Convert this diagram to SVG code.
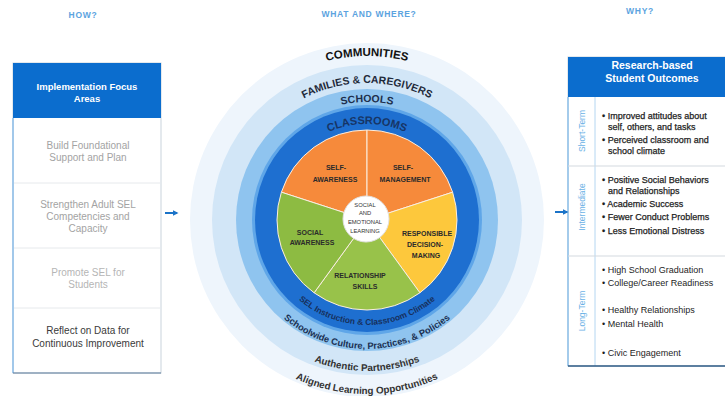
<svg xmlns="http://www.w3.org/2000/svg" width="725" height="396" viewBox="0 0 725 396">
<style>
.hdr{font-family:"Liberation Sans",Arial,sans-serif;font-weight:bold;font-size:8.5px;fill:#5ba3e0;letter-spacing:0.7px;text-anchor:middle}
.ph{font-family:"Liberation Sans",Arial,sans-serif;font-weight:bold;fill:#fff;text-anchor:middle}
.lt{font-family:"Liberation Sans",Arial,sans-serif;font-size:10px;text-anchor:middle}
.bt{font-family:"Liberation Sans",Arial,sans-serif;font-size:9px;fill:#1e1e1e}
.dk{stroke:#1e1e1e;stroke-width:0.25}
.rl{font-family:"Liberation Sans",Arial,sans-serif;font-size:8.5px;fill:#6cb2e6;text-anchor:middle}
.ring{font-family:"Liberation Sans",Arial,sans-serif;font-weight:bold;text-anchor:middle}
.pie{font-family:"Liberation Sans",Arial,sans-serif;font-weight:bold;font-size:7px;fill:#2b2b2b;text-anchor:middle}
.ctr{font-family:"Liberation Sans",Arial,sans-serif;font-size:5.8px;fill:#333;text-anchor:middle}
.sep{stroke:#e6e9ec;stroke-width:1}
.slice{stroke:#fbeee0;stroke-width:1}
</style>
<defs>
<marker id="ah" markerWidth="6" markerHeight="6" refX="4.5" refY="3" orient="auto" markerUnits="userSpaceOnUse">
<path d="M0,0 L6,3 L0,6 Z" fill="#1a73c8"/>
</marker>
<path id="tCom" d="M203,220 A164,164 0 0 1 531,220"/>
<path id="tFam" d="M230,220 A137,137 0 0 1 504,220"/>
<path id="tSch" d="M249,220 A118,118 0 0 1 485,220"/>
<path id="tCla" d="M271,220 A96,96 0 0 1 463,220"/>
<path id="bSel" d="M262,220 A105,105 0 0 0 472,220"/>
<path id="bSch" d="M238,220 A129,129 0 0 0 496,220"/>
<path id="bAut" d="M216,220 A151,151 0 0 0 518,220"/>
<path id="bAli" d="M193,220 A174,174 0 0 0 541,220"/>
</defs>

<rect width="725" height="396" fill="#fff"/>

<g id="titles">
<text class="hdr" x="83" y="18">HOW?</text>
<text class="hdr" x="369" y="17">WHAT AND WHERE?</text>
<text class="hdr" x="640" y="14">WHY?</text>
</g>

<g id="implementation-focus-areas">
<rect x="13" y="63" width="148" height="310" fill="#fff" stroke="#c9d3dc"/>
<rect x="13" y="63" width="148" height="55" fill="#0b6dce"/>
<line x1="13" y1="118" x2="13" y2="373" stroke="#8cbde8" stroke-width="1.5"/>
<line x1="13" y1="373" x2="161" y2="373" stroke="#5b7a99" stroke-width="1.2"/>
<line class="sep" x1="14" y1="183" x2="160" y2="183"/>
<line class="sep" x1="14" y1="248" x2="160" y2="248"/>
<line class="sep" x1="14" y1="308" x2="160" y2="308"/>
<text class="ph" x="87" y="90" font-size="9.5">Implementation Focus</text>
<text class="ph" x="87" y="102" font-size="9.5">Areas</text>
<text class="lt" x="88" y="149" fill="#a3a3a3">Build Foundational</text>
<text class="lt" x="88" y="161" fill="#a3a3a3">Support and Plan</text>
<text class="lt" x="88" y="208" fill="#a3a3a3">Strengthen Adult SEL</text>
<text class="lt" x="88" y="220" fill="#a3a3a3">Competencies and</text>
<text class="lt" x="88" y="232" fill="#a3a3a3">Capacity</text>
<text class="lt" x="88" y="276" fill="#b5b5b5">Promote SEL for</text>
<text class="lt" x="88" y="288" fill="#b5b5b5">Students</text>
<text class="lt" x="88" y="334" fill="#3a3a3a">Reflect on Data for</text>
<text class="lt" x="88" y="347" fill="#3a3a3a">Continuous Improvement</text>
</g>

<g id="sel-wheel">
<circle cx="367" cy="220" r="177" fill="#eef5fc"/>
<circle cx="367" cy="220" r="155" fill="#d2e6f7"/>
<circle cx="367" cy="220" r="131" fill="#8fc4ef"/>
<circle cx="367" cy="220" r="115" fill="#5fa6e8"/>
<circle cx="367" cy="220" r="112" fill="#1e6fd0"/>
<path class="slice" d="M367,220 L367,130 A90,90 0 0 0 281.4,192.2 Z" fill="#f68a3b"/>
<path class="slice" d="M367,220 L452.6,192.2 A90,90 0 0 0 367,130 Z" fill="#f68a3b"/>
<path class="slice" d="M367,220 L419.9,292.8 A90,90 0 0 0 452.6,192.2 Z" fill="#fdc83c"/>
<path class="slice" d="M367,220 L314.1,292.8 A90,90 0 0 0 419.9,292.8 Z" fill="#98c24a"/>
<path class="slice" d="M367,220 L281.4,192.2 A90,90 0 0 0 314.1,292.8 Z" fill="#8dbb42"/>
<circle cx="366" cy="219" r="23" fill="#fff" stroke="#e2e2e2"/>

<text class="ring" font-size="11.5" fill="#111"><textPath href="#tCom" startOffset="50%">COMMUNITIES</textPath></text>
<text class="ring" font-size="10.5" fill="#1f2a3a"><textPath href="#tFam" startOffset="50%">FAMILIES &amp; CAREGIVERS</textPath></text>
<text class="ring" font-size="10.5" fill="#1e2f4c"><textPath href="#tSch" startOffset="50%">SCHOOLS</textPath></text>
<text class="ring" font-size="11" fill="#173566"><textPath href="#tCla" startOffset="50%">CLASSROOMS</textPath></text>
<text class="ring" font-size="8.4" fill="#17305c"><textPath href="#bSel" startOffset="50%">SEL Instruction &amp; Classroom Climate</textPath></text>
<text class="ring" font-size="9.2" fill="#1b3052"><textPath href="#bSch" startOffset="50%">Schoolwide Culture, Practices, &amp; Policies</textPath></text>
<text class="ring" font-size="9.8" fill="#333"><textPath href="#bAut" startOffset="50%">Authentic Partnerships</textPath></text>
<text class="ring" font-size="9.8" fill="#333"><textPath href="#bAli" startOffset="50%">Aligned Learning Opportunities</textPath></text>

<text class="pie" x="336" y="170">SELF-</text>
<text class="pie" x="335" y="182">AWARENESS</text>
<text class="pie" x="403" y="170">SELF-</text>
<text class="pie" x="405" y="182">MANAGEMENT</text>
<text class="pie" x="310" y="235">SOCIAL</text>
<text class="pie" x="312" y="245">AWARENESS</text>
<text class="pie" x="427" y="236">RESPONSIBLE</text>
<text class="pie" x="425" y="247">DECISION-</text>
<text class="pie" x="426" y="258">MAKING</text>
<text class="pie" x="360" y="278">RELATIONSHIP</text>
<text class="pie" x="365" y="289">SKILLS</text>
<text class="ctr" x="365" y="207">SOCIAL</text>
<text class="ctr" x="365" y="215">AND</text>
<text class="ctr" x="365" y="224">EMOTIONAL</text>
<text class="ctr" x="365" y="233">LEARNING</text>
</g>

<g id="student-outcomes">
<rect x="568" y="57" width="170" height="309" fill="#fff" stroke="#c9d3dc"/>
<rect x="568" y="57" width="170" height="40" fill="#0b6dce"/>
<line x1="568" y1="97" x2="568" y2="366" stroke="#8fc1ea" stroke-width="1.5"/>
<line x1="595" y1="97" x2="595" y2="366" stroke="#b4d6f1" stroke-width="1"/>
<line x1="568" y1="166" x2="725" y2="166" stroke="#d3d9df"/>
<line x1="568" y1="256" x2="725" y2="256" stroke="#d3d9df"/>
<line x1="568" y1="366" x2="725" y2="366" stroke="#2f5b86" stroke-width="1.5"/>
<text class="ph" x="652" y="69" font-size="10.5">Research-based</text>
<text class="ph" x="652" y="82" font-size="10.5">Student Outcomes</text>
<text class="rl" transform="translate(585,131) rotate(-90)">Short-Term</text>
<text class="rl" transform="translate(585,207) rotate(-90)">Intermediate</text>
<text class="rl" transform="translate(585,311) rotate(-90)">Long-Term</text>
<text class="bt dk" x="602" y="119">• Improved attitudes about</text>
<text class="bt dk" x="608" y="130">self, others, and tasks</text>
<text class="bt dk" x="602" y="143">• Perceived classroom and</text>
<text class="bt dk" x="608" y="154">school climate</text>
<text class="bt dk" x="602" y="183">• Positive Social Behaviors</text>
<text class="bt dk" x="608" y="194">and Relationships</text>
<text class="bt dk" x="602" y="207">• Academic Success</text>
<text class="bt dk" x="602" y="220">• Fewer Conduct Problems</text>
<text class="bt dk" x="602" y="234">• Less Emotional Distress</text>
<text class="bt" x="602" y="273" fill="#666">• High School Graduation</text>
<text class="bt" x="602" y="286" fill="#666">• College/Career Readiness</text>
<text class="bt" x="602" y="313" fill="#b3b3b3">• Healthy Relationships</text>
<text class="bt" x="602" y="327" fill="#b3b3b3">• Mental Health</text>
<text class="bt" x="602" y="356" fill="#b3b3b3">• Civic Engagement</text>
</g>

<g id="connectors">
<line x1="165" y1="213" x2="177" y2="213" stroke="#1a73c8" stroke-width="2" marker-end="url(#ah)"/>
<line x1="555" y1="212" x2="567" y2="212" stroke="#1a73c8" stroke-width="2" marker-end="url(#ah)"/>
</g>
</svg>
